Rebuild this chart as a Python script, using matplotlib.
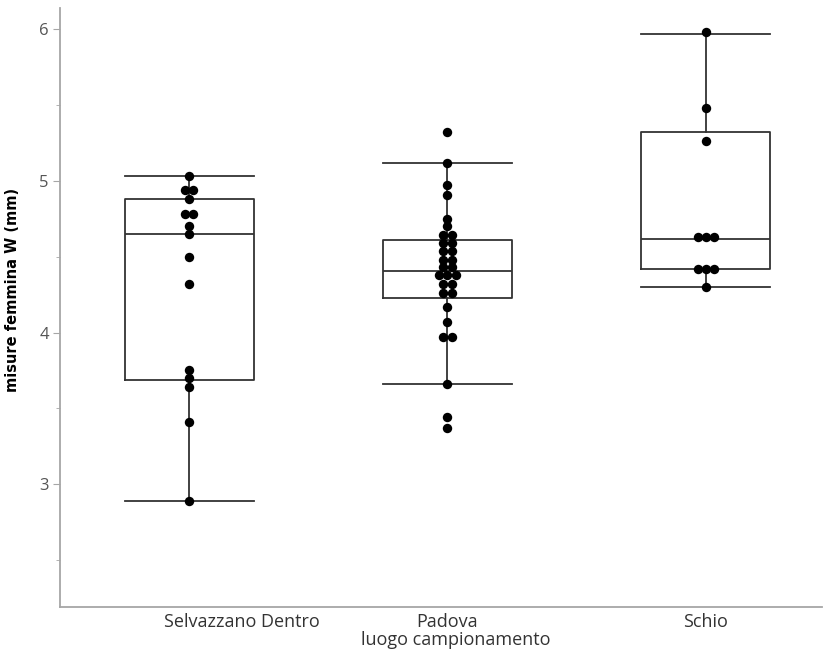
# Box plot with swarm of points - misure femmina W per luogo di campionamento

import numpy as np
import matplotlib.pyplot as plt
from matplotlib import transforms

plt.rcParams['font.family'] = ['Open Sans', 'DejaVu Sans']

                                                       # Data
sites = ['Selvazzano Dentro', 'Padova', 'Schio']

selvazzano = [2.89, 3.41, 3.64, 3.70, 3.75, 4.32, 4.50, 4.65, 4.70,
              4.78, 4.78, 4.88, 4.94, 4.94, 5.03]
padova = [3.37, 3.44, 3.66, 3.97, 3.97, 4.07, 4.17, 4.26, 4.26, 4.32,
          4.32, 4.38, 4.38, 4.38, 4.43, 4.43, 4.48, 4.48, 4.54, 4.54,
          4.59, 4.59, 4.64, 4.64, 4.70, 4.75, 4.91, 4.97, 5.12, 5.32]
schio = [4.30, 4.42, 4.42, 4.42, 4.63, 4.63, 4.63, 5.26, 5.48, 5.98]

                                                       # Box statistics
whis_lo = [2.89, 3.66, 4.30]
q1 = [3.69, 4.23, 4.42]
med = [4.65, 4.405, 4.62]
q3 = [4.88, 4.61, 5.32]
whis_hi = [5.03, 5.12, 5.97]

groups = [selvazzano, padova, schio]

fig = plt.figure(figsize=(8.24, 6.51), dpi=100)
ax = fig.add_axes([0.0728, 0.0676, 0.9248, 0.9201])

stats = []
for i in range(len(sites)):
    stats.append({'whislo': whis_lo[i], 'q1': q1[i], 'med': med[i],
                  'q3': q3[i], 'whishi': whis_hi[i], 'fliers': []})

line = dict(color='#333333', linewidth=1.3)
ax.bxp(stats, positions=range(len(sites)), widths=0.5, capwidths=0.5,
       showfliers=False, boxprops=line, whiskerprops=line,
       capprops=line, medianprops=line, zorder=1)

                                                       # Swarm: equal values side by side
step = 0.032
for i, g in enumerate(groups):
    vals = np.array(g)
    for v in np.unique(vals):
        m = np.sum(vals == v)
        xs = i + (np.arange(m) - (m - 1) / 2.0) * step
        ax.scatter(xs, [v] * m, s=46, color='black', zorder=3,
                   linewidths=0)

ax.set_xlim(-0.5, 2.45)
ax.set_ylim(2.19, 6.14)

ax.set_yticks([3, 4, 5, 6])
ax.set_yticks([2.5, 3.5, 4.5, 5.5], minor=True)
ax.set_xticks(range(len(sites)))
ax.set_xticklabels(sites)

for s in ['top', 'right']:
    ax.spines[s].set_visible(False)
for s in ['left', 'bottom']:
    ax.spines[s].set_color('#a6a6a6')
    ax.spines[s].set_linewidth(1.3)

ax.tick_params(axis='y', which='major', length=5, color='#a6a6a6',
               labelcolor='#555555', labelsize=12, pad=3)
ax.tick_params(axis='y', which='minor', length=3, color='#a6a6a6')
ax.tick_params(axis='x', length=0, labelsize=13, labelcolor='#333333', pad=4)

                                                       # First label sits right of its box
lab = ax.get_xticklabels()[0]
lab.set_transform(lab.get_transform() +
                  transforms.ScaledTranslation(0.53, 0, fig.dpi_scale_trans))

ax.set_xlabel('luogo campionamento', fontsize=13, color='#333333')
ax.xaxis.set_label_coords(0.52, -0.04)
ax.set_ylabel('misure femmina W (mm)', fontsize=10.5, fontweight='bold',
              family=['Liberation Sans Narrow', 'DejaVu Sans Condensed', 'DejaVu Sans'])
ax.yaxis.set_label_coords(-0.0525, 0.529)

plt.savefig('out.png', dpi=100)
